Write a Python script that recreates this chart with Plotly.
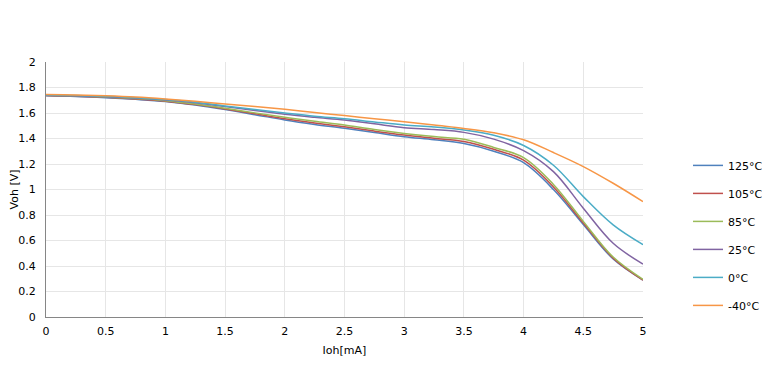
import plotly.graph_objects as go

x_vals = [0, 0.25, 0.5, 0.75, 1, 1.25, 1.5, 1.75, 2, 2.25, 2.5, 2.75, 3,
          3.25, 3.5, 3.75, 4, 4.25, 4.5, 4.75, 5]

series_names = ["125°C", "105°C", "85°C", "25°C", "0°C", "-40°C"]
v_125 = [1.735, 1.730, 1.720, 1.707, 1.690, 1.662, 1.627, 1.587, 1.545, 1.510, 1.480,
         1.447, 1.414, 1.390, 1.360, 1.300, 1.210, 1.000, 0.725, 0.455, 0.290]
v_105 = [1.737, 1.732, 1.723, 1.710, 1.693, 1.666, 1.632, 1.594, 1.555, 1.522, 1.492,
         1.458, 1.427, 1.402, 1.377, 1.315, 1.230, 1.020, 0.737, 0.462, 0.290]
v_85 = [1.740, 1.735, 1.726, 1.714, 1.697, 1.670, 1.637, 1.601, 1.566, 1.535, 1.505,
        1.470, 1.440, 1.415, 1.394, 1.330, 1.250, 1.040, 0.750, 0.470, 0.295]
v_25 = [1.740, 1.736, 1.728, 1.717, 1.702, 1.680, 1.650, 1.620, 1.590, 1.566, 1.545,
        1.515, 1.485, 1.470, 1.448, 1.395, 1.305, 1.140, 0.853, 0.578, 0.415]
v_0 = [1.742, 1.738, 1.730, 1.720, 1.705, 1.684, 1.655, 1.627, 1.600, 1.575, 1.555,
       1.530, 1.506, 1.490, 1.466, 1.425, 1.345, 1.190, 0.944, 0.722, 0.567]
v_m40 = [1.745, 1.742, 1.735, 1.725, 1.710, 1.692, 1.670, 1.651, 1.629, 1.603, 1.580,
         1.555, 1.532, 1.505, 1.479, 1.445, 1.390, 1.290, 1.180, 1.049, 0.905]
series_vals = [v_125, v_105, v_85, v_25, v_0, v_m40]
colors = ["#4F81BD", "#C0504D", "#9BBB59", "#8064A2", "#4BACC6", "#F79646"]

x_ticks = [0, 0.5, 1, 1.5, 2, 2.5, 3, 3.5, 4, 4.5, 5]
x_tick_text = ["0", "0.5", "1", "1.5", "2", "2.5", "3", "3.5", "4", "4.5", "5"]
y_ticks = [0, 0.2, 0.4, 0.6, 0.8, 1, 1.2, 1.4, 1.6, 1.8, 2]
y_tick_text = ["0", "0.2", "0.4", "0.6", "0.8", "1", "1.2", "1.4", "1.6", "1.8", "2"]

fig = go.Figure()
for name, vals, col in zip(series_names, series_vals, colors):
    fig.add_trace(go.Scatter(
        x=x_vals, y=vals, name=name, mode="lines",
        line=dict(color=col, width=1.5, shape="spline", smoothing=1.0),
        legendgroup=name,
    ))

font_family = "DejaVu Sans"
# the page body has an 8px margin, so the figure is sized to fit the window
fig.update_layout(
    width=762, height=350,
    margin=dict(l=38, r=127, t=54, b=41, autoexpand=False),
    paper_bgcolor="white", plot_bgcolor="white",
    font=dict(family=font_family, size=11, color="#000000"),
    showlegend=True,
    legend=dict(
        x=1.0754, xanchor="left", y=0.32, yanchor="middle",
        font=dict(family=font_family, size=11, color="#000000"),
        tracegroupgap=9, bgcolor="rgba(0,0,0,0)",
    ),
    xaxis=dict(
        range=[0, 5], tickvals=x_ticks, ticktext=x_tick_text,
        showgrid=True, gridcolor="#E6E6E6", gridwidth=1,
        showline=True, linecolor="#868686", linewidth=1,
        ticks="", zeroline=False, automargin=False, ticklabelstandoff=4,
        title=dict(text="Ioh[mA]", standoff=9, font=dict(size=11)),
    ),
    yaxis=dict(
        range=[0, 2], tickvals=y_ticks, ticktext=y_tick_text,
        showgrid=True, gridcolor="#E6E6E6", gridwidth=1,
        showline=True, linecolor="#868686", linewidth=1,
        ticks="", zeroline=False, automargin=False, ticklabelstandoff=7,
        title=dict(text="Voh [V]", standoff=1, font=dict(size=11)),
    ),
)

fig.write_html("out.html")
